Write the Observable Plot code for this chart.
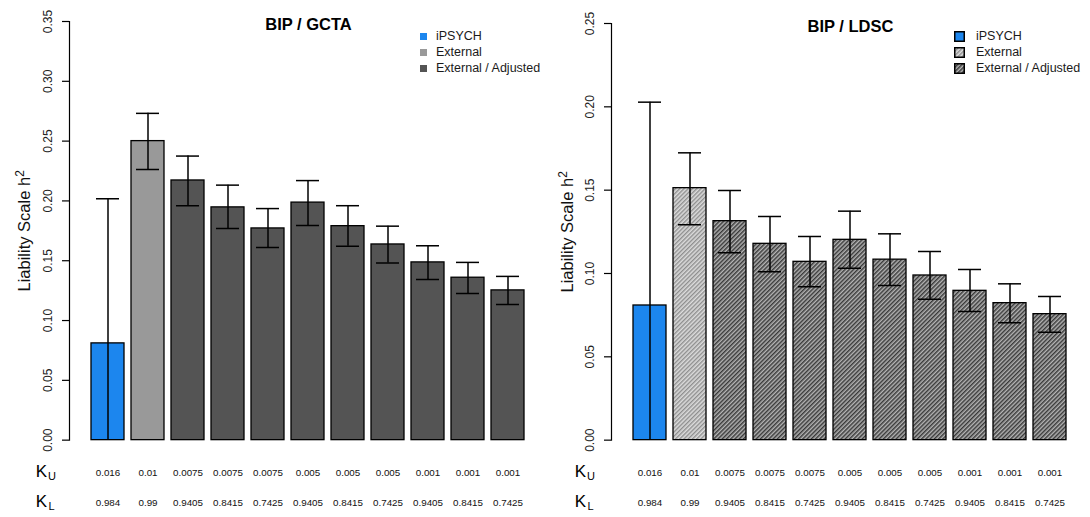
<!DOCTYPE html>
<html><head><meta charset="utf-8">
<script src="https://cdn.jsdelivr.net/npm/d3@7"></script>
<script src="https://cdn.jsdelivr.net/npm/@observablehq/plot@0.6"></script>
<style>
body{margin:0;background:#fff;font-family:"Liberation Sans",Arial,Helvetica,sans-serif;}
#wrap{display:flex;width:1090px;height:517px;overflow:hidden;}
.panel{position:relative;width:545px;height:517px;}
.panel svg{display:block;}
.legend{position:absolute;font-size:12.5px;color:#1a1a1a;}
.legend .row{display:flex;align-items:center;height:16px;}
</style></head><body>
<svg width="0" height="0" style="position:absolute">
  <defs>
    <pattern id="hatchExt" patternUnits="userSpaceOnUse" width="3" height="3" patternTransform="rotate(45)">
      <rect width="3" height="3" fill="#dcdcdc"></rect>
      <rect width="1.4" height="3" fill="#8e8e8e"></rect>
    </pattern>
    <pattern id="hatchAdj" patternUnits="userSpaceOnUse" width="3" height="3" patternTransform="rotate(45)">
      <rect width="3" height="3" fill="#b4b4b4"></rect>
      <rect width="1.5" height="3" fill="#3a3a3a"></rect>
    </pattern>
  </defs>
</svg>
<div id="wrap"><div class="panel" id="p1"></div><div class="panel" id="p2"></div></div>
<script>
// ---- data ----
const kU = ["0.016","0.01","0.0075","0.0075","0.0075","0.005","0.005","0.005","0.001","0.001","0.001"];
const kL = ["0.984","0.99","0.9405","0.8415","0.7425","0.9405","0.8415","0.7425","0.9405","0.8415","0.7425"];
const source = ["iPSYCH","External","External / Adjusted","External / Adjusted","External / Adjusted","External / Adjusted","External / Adjusted","External / Adjusted","External / Adjusted","External / Adjusted","External / Adjusted"];
const sources = ["iPSYCH","External","External / Adjusted"];

const gctaH2 = [0.0809,0.250,0.2171,0.1946,0.1770,0.1986,0.1789,0.1636,0.1486,0.1358,0.1252];
const gctaLo = [-0.040,0.2263,0.1960,0.1770,0.1610,0.1795,0.1620,0.1480,0.1344,0.1227,0.1135];
const gctaHi = [0.2018,0.2732,0.2375,0.2132,0.1936,0.2170,0.1960,0.1789,0.1625,0.1486,0.1369];

const ldscH2 = [0.0808,0.1512,0.1314,0.1178,0.1070,0.1202,0.1083,0.0988,0.0896,0.0822,0.0756];
const ldscLo = [-0.041,0.1292,0.1124,0.1010,0.0920,0.1032,0.0928,0.0846,0.0772,0.0704,0.0648];
const ldscHi = [0.2028,0.1724,0.1498,0.1342,0.1222,0.1374,0.1238,0.1132,0.1024,0.0938,0.0862];

const gctaTicks = [0,0.05,0.10,0.15,0.20,0.25,0.30,0.35];
const ldscTicks = [0,0.05,0.10,0.15,0.20,0.25];

const gctaColors = ["#1C86EE","#999999","#545454"];
const ldscColors = ["#1C86EE","url(#hatchExt)","url(#hatchAdj)"];

// ---- build ----
const ids = kU.map((u,i)=>u+" | "+kL[i]);
function rows(h2, lo, hi){
  return ids.map((id,i)=>({id, kU:kU[i], kL:kL[i], source:source[i], h2:h2[i], lo:lo[i], hi:hi[i]}));
}
const FONT = "'Liberation Sans', Arial, Helvetica, sans-serif";
const C = {textAnchor: "middle", lineAnchor: "middle"};

function panel({data, ticks, colors, title, marginLeft, marginTop, marginRight, barRange, titleDx, kX, subX, labelDx}){
  const H = 517, bottom = 439.65;
  const svg = Plot.plot({
    width: 545, height: H,
    marginTop, marginBottom: H - bottom, marginLeft, marginRight,
    style: {fontFamily: FONT, background: "white", color: "black", overflow: "visible"},
    x: {domain: ids, range: barRange, paddingInner: 0.1667, paddingOuter: 0, axis: null},
    y: {domain: [0, ticks[ticks.length-1]]},
    color: {domain: sources, range: colors},
    marks: [
      Plot.barY(data, {x: "id", y: "h2", fill: "source", stroke: "#000", strokeWidth: 1.3}),
      Plot.ruleX(data, {x: "id", y1: "lo", y2: "hi", stroke: "#000", strokeWidth: 1.5, clip: true}),
      Plot.tickY(data, {x: "id", y: "hi", stroke: "#000", strokeWidth: 1.5, insetLeft: 5, insetRight: 5}),
      Plot.tickY(data, {x: "id", y: "lo", stroke: "#000", strokeWidth: 1.5, insetLeft: 5, insetRight: 5, clip: true}),
      Plot.frame({anchor: "left", stroke: "#000", strokeWidth: 1.2}),
      Plot.axisY({ticks, tickSize: 7, tickFormat: () => "", stroke: "#000", strokeWidth: 1.2, label: null}),
      Plot.text(ticks, {...C, y: d => d, text: d => d.toFixed(2), frameAnchor: "left", dx: -21, rotate: -90, fontSize: 12, fill: "#222"}),
      Plot.text(["Liability Scale h²"], {...C, frameAnchor: "left", dx: labelDx, dy: 0, rotate: -90, fontSize: 16.5, fill: "#111"}),
      Plot.text([title], {...C, frameAnchor: "top", dx: titleDx, dy: 3.5, fontSize: 16.5, fontWeight: "bold", fill: "#000"}),
      Plot.text(data, {...C, x: "id", text: "kU", frameAnchor: "bottom", dy: 32.5, fontSize: 9.8, fill: "#111"}),
      Plot.text(data, {...C, x: "id", text: "kL", frameAnchor: "bottom", dy: 62.5, fontSize: 9.8, fill: "#111"}),
      Plot.text(["K"], {...C, frameAnchor: "bottom-left", dx: kX - marginLeft, dy: 31.5, fontSize: 17, fill: "#000"}),
      Plot.text(["U"], {...C, frameAnchor: "bottom-left", dx: subX - marginLeft, dy: 36.5, fontSize: 11, fill: "#000"}),
      Plot.text(["K"], {...C, frameAnchor: "bottom-left", dx: kX - marginLeft, dy: 61.5, fontSize: 17, fill: "#000"}),
      Plot.text(["L"], {...C, frameAnchor: "bottom-left", dx: subX - 0.5 - marginLeft, dy: 66.5, fontSize: 11, fill: "#000"})
    ]
  });
  // real superscript for h2
  d3.select(svg).selectAll("text").filter(function(){ return this.textContent === "Liability Scale h²"; })
    .each(function(){
      const t = d3.select(this);
      t.text("Liability Scale h");
      t.append("tspan").attr("dy", "-0.45em").attr("font-size", "12").text("2");
    });
  return svg;
}

function legend(el, colors, hatched, left, swLeft){
  const div = document.createElement("div");
  div.className = "legend";
  div.style.left = swLeft + "px";
  div.style.top = "28px";
  sources.forEach((s,i)=>{
    const row = document.createElement("div"); row.className = "row";
    const sw = document.createElementNS("http://www.w3.org/2000/svg","svg");
    const size = hatched ? 11 : 7;
    sw.setAttribute("width", size); sw.setAttribute("height", size);
    const r = document.createElementNS("http://www.w3.org/2000/svg","rect");
    if (hatched){ r.setAttribute("x",0.75); r.setAttribute("y",0.75); r.setAttribute("width",size-1.5); r.setAttribute("height",size-1.5); r.setAttribute("stroke","#000"); r.setAttribute("stroke-width","1.5"); }
    else { r.setAttribute("width",size); r.setAttribute("height",size); }
    r.setAttribute("fill", colors[i]);
    sw.appendChild(r);
    row.appendChild(sw);
    const sp = document.createElement("span"); sp.textContent = s; sp.style.marginLeft = (left - swLeft - size) + "px";
    row.appendChild(sp);
    div.appendChild(row);
  });
  el.appendChild(div);
}

const p1 = document.getElementById("p1");
p1.appendChild(panel({data: rows(gctaH2,gctaLo,gctaHi), ticks: gctaTicks, colors: gctaColors, title: "BIP / GCTA",
  marginLeft: 69, marginTop: 21.0, marginRight: 18, barRange: [87, 529], titleDx: 10, kX: 41, subX: 51.5, labelDx: -45}));
legend(p1, gctaColors, false, 436, 420);

const p2 = document.getElementById("p2");
p2.appendChild(panel({data: rows(ldscH2,ldscLo,ldscHi), ticks: ldscTicks, colors: ldscColors, title: "BIP / LDSC",
  marginLeft: 66, marginTop: 23.0, marginRight: 21, barRange: [84, 526], titleDx: 10, kX: 35, subX: 45.5, labelDx: -44}));
legend(p2, ldscColors, true, 431, 409);
</script>
</body></html>
